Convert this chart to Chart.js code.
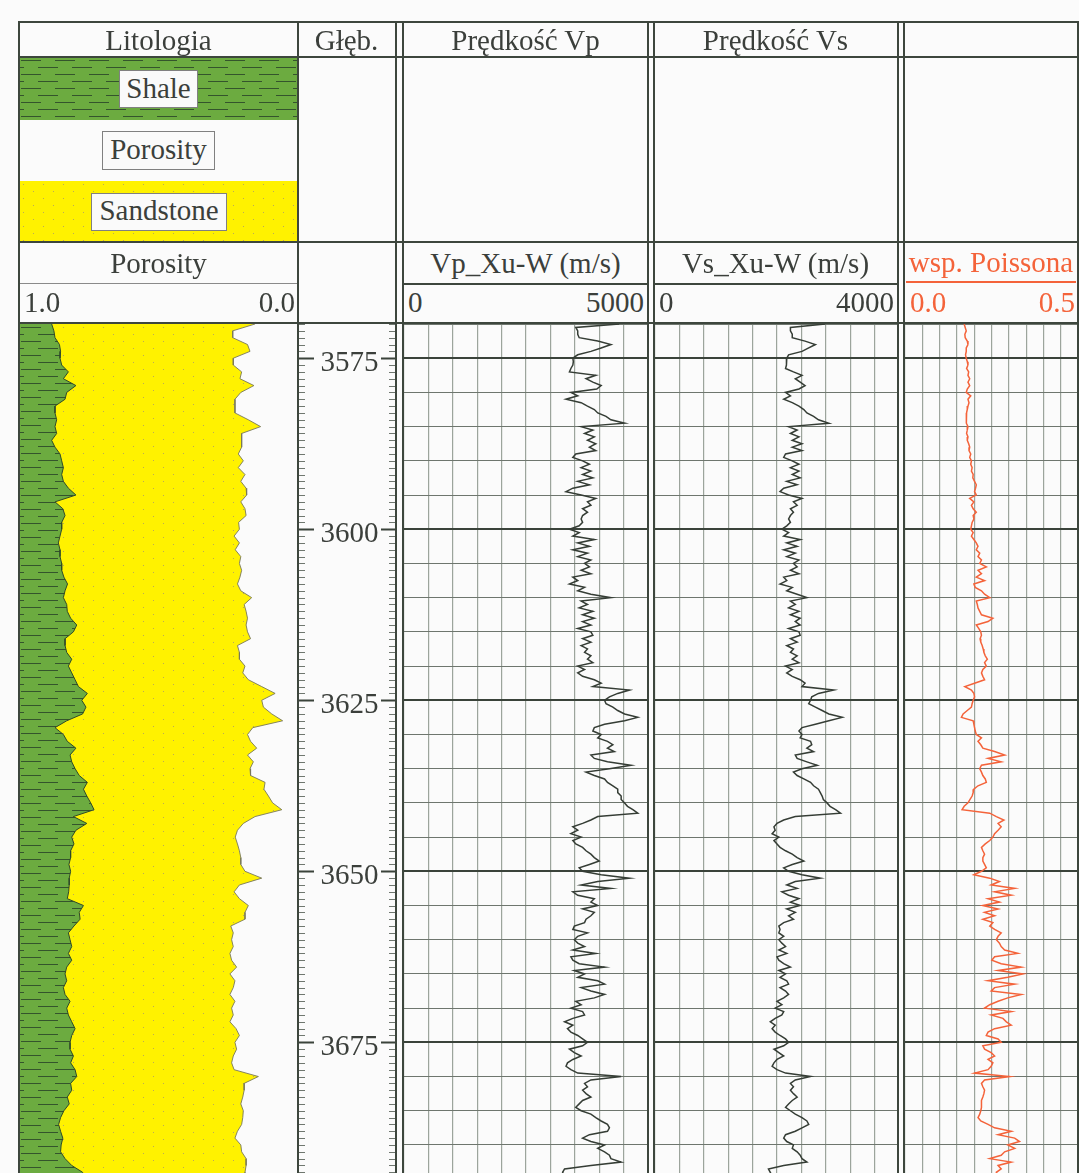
<!DOCTYPE html>
<html>
<head>
<meta charset="utf-8">
<script src="https://cdn.jsdelivr.net/npm/chart.js@4.4.0/dist/chart.umd.min.js"></script>
<style>
  body { margin: 0; background: #fcfcfc; }
  #page { position: relative; width: 1079px; height: 1173px; overflow: hidden; background: #fbfbfb;
          font-family: "Liberation Serif", "Times New Roman", serif; color: #3b3f3b; }
  .ln { position: absolute; z-index: 3; }
  .t { position: absolute; z-index: 4; font-size: 29px; line-height: 29px; white-space: nowrap; }
  .box { position: absolute; z-index: 2; background: #fafafa; border: 1px solid #808080; box-sizing: border-box; }
  .band { position: absolute; z-index: 1; }
  canvas { position: absolute; z-index: 1; }
</style>
</head>
<body>
<div id="page"></div>
<script>
// depth window (m)
const DEPTH_MIN = 3570;
const DEPTH_MAX = 3694.1;
const LABEL_STEP = 25;

// velocity + Poisson logs, sampled every 0.5 m from 3570 m
const LOG_STEP = 0.5;
const VP = [
  4410, 3520, 3560, 3560, 3590, 3970, 4240, 4040, 3830, 3560,
  3460, 3470, 3460, 3420, 3390, 3930, 3730, 3870, 4040, 3950,
  3420, 3560, 3320, 3630, 3760, 3900, 3970, 4140, 4240, 4520,
  3630, 3870, 3700, 3900, 3760, 3930, 3800, 3930, 3520, 3460,
  3660, 3800, 3630, 3830, 3660, 3870, 3560, 3800, 3460, 3320,
  3630, 3930, 3760, 3830, 3660, 3760, 3660, 3630, 3660, 3590,
  3390, 3590, 3460, 3900, 3560, 3800, 3460, 3760, 3560, 3830,
  3700, 3800, 3630, 3830, 3460, 3560, 3390, 3700, 3560, 3830,
  4240, 3630, 3760, 3590, 3870, 3660, 3900, 3660, 3830, 3560,
  3830, 3870, 3660, 3830, 3630, 3760, 3700, 3830, 3760, 3870,
  3560, 3700, 3560, 3660, 3900, 4040, 3870, 4620, 4380, 4210,
  4110, 4140, 4280, 4380, 4520, 4790, 4520, 4110, 3900, 3870,
  4040, 3970, 4170, 4280, 4170, 4310, 3830, 3900, 4170, 4650,
  4210, 3730, 3900, 4110, 4170, 4280, 4380, 4380, 4450, 4450,
  4520, 4580, 4690, 4790, 3970, 3830, 3660, 3460, 3560, 3420,
  3630, 3460, 3520, 3660, 3730, 3830, 3900, 4000, 3800, 3590,
  3660, 4040, 4620, 3970, 3630, 4240, 3460, 3560, 3900, 3830,
  3970, 3660, 3900, 3830, 3730, 3700, 3490, 3460, 3760, 3560,
  3490, 3560, 3700, 3460, 3930, 3420, 3460, 3590, 4110, 3490,
  3700, 3560, 3970, 4110, 3630, 3830, 4110, 3900, 3520, 3630,
  3420, 3660, 3700, 3460, 3290, 3460, 3350, 3420, 3560, 3660,
  3760, 3660, 3390, 3490, 3630, 3460, 3350, 3320, 3420, 3560,
  4450, 3830, 3700, 3760, 3660, 3730, 3830, 3660, 3590, 3520,
  3630, 3830, 3930, 4040, 4170, 4210, 4170, 3800, 3660, 3830,
  4110, 3970, 4110, 4210, 4240, 4450, 3830, 3290, 3250, 3290
];
const VS = [
  2790, 2220, 2220, 2250, 2250, 2460, 2630, 2520, 2410, 2190,
  2160, 2160, 2150, 2140, 2270, 2410, 2300, 2380, 2460, 2360,
  2140, 2220, 2110, 2250, 2360, 2440, 2490, 2600, 2680, 2850,
  2190, 2330, 2220, 2360, 2250, 2410, 2250, 2410, 2140, 2110,
  2250, 2360, 2220, 2360, 2250, 2380, 2160, 2330, 2110, 2050,
  2190, 2410, 2270, 2330, 2220, 2270, 2220, 2190, 2220, 2160,
  2080, 2190, 2110, 2380, 2160, 2330, 2110, 2300, 2160, 2360,
  2270, 2330, 2220, 2360, 2110, 2160, 2050, 2250, 2160, 2330,
  2490, 2220, 2300, 2190, 2360, 2220, 2380, 2300, 2380, 2190,
  2360, 2380, 2220, 2330, 2160, 2270, 2220, 2330, 2250, 2360,
  2140, 2250, 2160, 2250, 2380, 2460, 2410, 2930, 2680, 2570,
  2550, 2520, 2630, 2740, 2850, 3070, 2850, 2630, 2410, 2360,
  2410, 2380, 2550, 2570, 2490, 2600, 2300, 2330, 2490, 2660,
  2410, 2270, 2330, 2440, 2550, 2600, 2680, 2710, 2740, 2760,
  2820, 2870, 2960, 3040, 2300, 2110, 2000, 1950, 1970, 1920,
  2030, 1950, 2000, 2050, 2140, 2250, 2330, 2440, 2250, 2110,
  2190, 2410, 2710, 2300, 2160, 2330, 2080, 2190, 2360, 2220,
  2380, 2160, 2300, 2190, 2270, 2110, 2030, 2050, 2030, 2110,
  2030, 2080, 2140, 2030, 2160, 2000, 2030, 2110, 2220, 2030,
  2140, 2050, 2160, 2190, 2050, 2140, 2190, 2110, 2000, 2080,
  1970, 2110, 2080, 1970, 1890, 1970, 1920, 1970, 2050, 2140,
  2190, 2110, 1950, 2030, 2110, 2000, 1950, 1920, 2000, 2140,
  2550, 2300, 2220, 2270, 2220, 2270, 2330, 2250, 2190, 2140,
  2220, 2300, 2410, 2490, 2520, 2410, 2300, 2140, 2110, 2160,
  2270, 2250, 2330, 2380, 2410, 2490, 2110, 1860, 1890, 1920
];
const POISSON = [
  0.171, 0.174, 0.177, 0.173, 0.174, 0.180, 0.182, 0.177, 0.177, 0.175,
  0.177, 0.180, 0.182, 0.178, 0.184, 0.182, 0.187, 0.182, 0.187, 0.180,
  0.177, 0.190, 0.182, 0.185, 0.182, 0.180, 0.178, 0.177, 0.178, 0.177,
  0.182, 0.180, 0.178, 0.182, 0.180, 0.184, 0.187, 0.185, 0.190, 0.187,
  0.192, 0.190, 0.194, 0.192, 0.197, 0.196, 0.201, 0.206, 0.204, 0.201,
  0.206, 0.187, 0.199, 0.192, 0.197, 0.206, 0.197, 0.199, 0.194, 0.192,
  0.190, 0.197, 0.192, 0.199, 0.206, 0.211, 0.206, 0.216, 0.211, 0.221,
  0.216, 0.235, 0.211, 0.221, 0.206, 0.230, 0.199, 0.203, 0.221, 0.230,
  0.245, 0.206, 0.209, 0.211, 0.216, 0.221, 0.254, 0.240, 0.206, 0.213,
  0.219, 0.221, 0.217, 0.219, 0.223, 0.226, 0.228, 0.232, 0.238, 0.230,
  0.235, 0.225, 0.221, 0.225, 0.230, 0.201, 0.173, 0.192, 0.199, 0.201,
  0.197, 0.194, 0.192, 0.180, 0.168, 0.163, 0.197, 0.199, 0.201, 0.203,
  0.206, 0.221, 0.211, 0.219, 0.225, 0.259, 0.288, 0.240, 0.278, 0.221,
  0.216, 0.221, 0.225, 0.232, 0.235, 0.211, 0.199, 0.197, 0.194, 0.188,
  0.182, 0.171, 0.165, 0.245, 0.264, 0.286, 0.269, 0.278, 0.269, 0.259,
  0.254, 0.245, 0.232, 0.221, 0.225, 0.230, 0.225, 0.225, 0.230, 0.235,
  0.221, 0.199, 0.245, 0.273, 0.249, 0.317, 0.259, 0.307, 0.240, 0.273,
  0.225, 0.269, 0.230, 0.259, 0.225, 0.254, 0.245, 0.259, 0.278, 0.269,
  0.264, 0.273, 0.278, 0.288, 0.326, 0.259, 0.251, 0.278, 0.336, 0.269,
  0.341, 0.297, 0.240, 0.317, 0.259, 0.249, 0.336, 0.297, 0.269, 0.245,
  0.230, 0.307, 0.249, 0.283, 0.293, 0.307, 0.259, 0.240, 0.235, 0.269,
  0.278, 0.225, 0.230, 0.249, 0.259, 0.240, 0.254, 0.249, 0.240, 0.201,
  0.302, 0.230, 0.221, 0.225, 0.230, 0.228, 0.225, 0.221, 0.221, 0.221,
  0.219, 0.216, 0.211, 0.219, 0.240, 0.259, 0.307, 0.269, 0.317, 0.331,
  0.297, 0.317, 0.288, 0.278, 0.245, 0.307, 0.269, 0.278, 0.264, 0.269
];

// lithology: shale volume and porosity, every 1 m from 3570
const LITH_STEP = 1;
const VSH = [
  0.117, 0.125, 0.129, 0.145, 0.149, 0.147, 0.153, 0.177, 0.159, 0.204,
  0.171, 0.165, 0.129, 0.129, 0.135, 0.129, 0.135, 0.117, 0.129, 0.147,
  0.153, 0.159, 0.153, 0.159, 0.177, 0.204, 0.129, 0.157, 0.165, 0.153,
  0.153, 0.147, 0.141, 0.147, 0.147, 0.153, 0.153, 0.161, 0.174, 0.165,
  0.159, 0.171, 0.173, 0.185, 0.207, 0.195, 0.165, 0.165, 0.171, 0.189,
  0.177, 0.189, 0.201, 0.213, 0.245, 0.225, 0.240, 0.228, 0.171, 0.129,
  0.159, 0.173, 0.204, 0.183, 0.189, 0.201, 0.216, 0.245, 0.231, 0.243,
  0.257, 0.269, 0.195, 0.243, 0.204, 0.189, 0.197, 0.185, 0.185, 0.179,
  0.185, 0.180, 0.180, 0.178, 0.173, 0.231, 0.216, 0.219, 0.197, 0.177,
  0.183, 0.189, 0.177, 0.189, 0.171, 0.165, 0.171, 0.159, 0.165, 0.183,
  0.171, 0.177, 0.189, 0.201, 0.189, 0.183, 0.183, 0.195, 0.185, 0.201,
  0.207, 0.185, 0.189, 0.173, 0.180, 0.161, 0.149, 0.142, 0.149, 0.157,
  0.151, 0.149, 0.165, 0.189, 0.228, 0.237
];
const PHI = [
  0.154, 0.234, 0.234, 0.181, 0.172, 0.232, 0.232, 0.202, 0.208, 0.158,
  0.205, 0.226, 0.226, 0.226, 0.178, 0.134, 0.202, 0.202, 0.202, 0.214,
  0.196, 0.214, 0.190, 0.205, 0.186, 0.184, 0.205, 0.190, 0.186, 0.213,
  0.210, 0.229, 0.210, 0.225, 0.205, 0.210, 0.202, 0.208, 0.217, 0.205,
  0.166, 0.193, 0.186, 0.181, 0.186, 0.181, 0.170, 0.217, 0.210, 0.210,
  0.190, 0.198, 0.178, 0.130, 0.082, 0.130, 0.124, 0.094, 0.055, 0.162,
  0.181, 0.170, 0.148, 0.181, 0.160, 0.172, 0.170, 0.118, 0.122, 0.106,
  0.091, 0.058, 0.154, 0.196, 0.217, 0.225, 0.217, 0.210, 0.205, 0.205,
  0.190, 0.130, 0.210, 0.229, 0.210, 0.178, 0.190, 0.190, 0.241, 0.232,
  0.238, 0.232, 0.244, 0.238, 0.220, 0.244, 0.226, 0.232, 0.244, 0.226,
  0.238, 0.232, 0.244, 0.222, 0.210, 0.226, 0.220, 0.232, 0.238, 0.229,
  0.142, 0.193, 0.193, 0.198, 0.205, 0.196, 0.198, 0.202, 0.217, 0.226,
  0.205, 0.202, 0.186, 0.186, 0.190, 0.190
];

const INK = '#3d463d';
const RED = '#f4633a';
const TOP = 324, H = 849;
const page = document.getElementById('page');

function line(l, t, w, h, c) {
  const d = document.createElement('div');
  d.className = 'ln';
  Object.assign(d.style, {left: l + 'px', top: t + 'px', width: w + 'px', height: h + 'px', background: c || INK});
  page.appendChild(d);
}
function text(s, left, width, baseline, align, color) {
  const d = document.createElement('div');
  d.className = 't';
  d.textContent = s;
  Object.assign(d.style, {left: left + 'px', width: width + 'px', top: (baseline - 24.3) + 'px', textAlign: align || 'center'});
  if (color) d.style.color = color;
  page.appendChild(d);
}

// fill patterns
function shaleTile() {
  const c = document.createElement('canvas');
  c.width = 34; c.height = 14;
  const g = c.getContext('2d');
  g.fillStyle = '#6cab40'; g.fillRect(0, 0, 34, 14);
  g.strokeStyle = '#34542c'; g.lineWidth = 1;
  g.beginPath();
  g.moveTo(2, 3.5); g.lineTo(22, 3.5);
  g.moveTo(19, 10.5); g.lineTo(34, 10.5);
  g.moveTo(0, 10.5); g.lineTo(5, 10.5);
  g.stroke();
  return c;
}
function sandTile() {
  const c = document.createElement('canvas');
  c.width = 20; c.height = 14;
  const g = c.getContext('2d');
  g.fillStyle = '#fff200'; g.fillRect(0, 0, 20, 14);
  g.fillStyle = '#b9a95a';
  g.fillRect(4, 3, 1, 1); g.fillRect(14, 10, 1, 1);
  return c;
}
const shaleImg = shaleTile(), sandImg = sandTile();
const pctx = document.createElement('canvas').getContext('2d');
const shalePattern = pctx.createPattern(shaleImg, 'repeat');
const sandPattern = pctx.createPattern(sandImg, 'repeat');

// header legend bands
function band(top, h, img) {
  const d = document.createElement('div');
  d.className = 'band';
  Object.assign(d.style, {left: '19px', top: top + 'px', width: '279px', height: h + 'px',
    backgroundImage: 'url(' + img.toDataURL() + ')'});
  page.appendChild(d);
}
band(57, 63, shaleImg);
band(181, 61, sandImg);
function box(l, t, w, h) {
  const d = document.createElement('div');
  d.className = 'box';
  Object.assign(d.style, {left: l + 'px', top: t + 'px', width: w + 'px', height: h + 'px'});
  page.appendChild(d);
}
box(119, 70, 79, 38);
box(102, 131, 113, 39);
box(91, 193, 136, 38);

// frame lines
line(18, 21, 1061, 2);
line(18, 56, 1061, 2);
line(18, 241, 1061, 2);
line(18, 322, 1061, 2);
[18, 296.5, 395, 402, 646.5, 652.5, 896.5, 902.5, 1077].forEach(x => line(x, 21, 2, 1152));
line(20, 283, 277, 1, '#8a8a8a');
line(404, 283, 243, 1.5);
line(655, 283, 242, 1.5);
line(906, 281, 170, 2, RED);

// header text
text('Litologia', 19, 279, 50);
text('Głęb.', 297, 99, 50);
text('Prędkość Vp', 404, 243, 50);
text('Prędkość Vs', 654, 243, 50);
text('Shale', 119, 79, 98);
text('Porosity', 102, 113, 159);
text('Sandstone', 91, 136, 220.5);
text('Porosity', 19, 279, 273);
text('1.0', 24, 60, 312, 'left');
text('0.0', 200, 95, 312, 'right');
text('Vp_Xu-W (m/s)', 404, 243, 273);
text('0', 408, 40, 312, 'left');
text('5000', 540, 104, 312, 'right');
text('Vs_Xu-W (m/s)', 654, 243, 273);
text('0', 659, 40, 312, 'left');
text('4000', 790, 104, 312, 'right');
text('wsp. Poissona', 904, 174, 272, 'center', RED);
text('0.0', 910, 60, 312, 'left', RED);
text('0.5', 1000, 75, 312, 'right', RED);

function pts(arr, step, f) {
  return arr.map((v, i) => ({x: f ? f(v) : v, y: DEPTH_MIN + i * step}));
}

function yScale(grid) {
  return {
    type: 'linear', min: DEPTH_MIN, max: DEPTH_MAX, reverse: true,
    display: grid, border: {display: false},
    ticks: {display: false, stepSize: 5},
    grid: {
      drawTicks: false,
      color: c => c.tick && c.tick.value % LABEL_STEP === 0 ? '#3a433a' : '#6e766e',
      lineWidth: c => c.tick && c.tick.value % LABEL_STEP === 0 ? 2 : 1
    }
  };
}

function track(left, width, datasets, xOpts, grid, plugins) {
  const cv = document.createElement('canvas');
  cv.width = width; cv.height = H;
  cv.style.left = left + 'px'; cv.style.top = TOP + 'px';
  page.appendChild(cv);
  return new Chart(cv, {
    type: 'line',
    data: {datasets},
    plugins: plugins || [],
    options: {
      responsive: false, animation: false, devicePixelRatio: 1,
      indexAxis: 'y',
      layout: {padding: 0},
      plugins: {legend: {display: false}, tooltip: {enabled: false}},
      elements: {point: {radius: 0}, line: {tension: 0}},
      scales: {
        x: Object.assign({
          type: 'linear', display: grid, border: {display: false},
          ticks: {display: false},
          grid: {drawTicks: false, color: '#9ca49c', lineWidth: 1.2}
        }, xOpts),
        y: yScale(grid)
      }
    }
  });
}

// lithology track: shale from the left, porosity from the right
track(19, 279, [
  {data: pts(VSH, LITH_STEP, v => 1 - v), borderColor: '#2f4a2a', borderWidth: 1,
   backgroundColor: shalePattern, fill: {value: 1}},
  {data: pts(PHI, LITH_STEP), borderColor: '#77775a', borderWidth: 0.9,
   backgroundColor: sandPattern, fill: {value: 1}}
], {min: 0, max: 1, reverse: true}, false);

// depth track
const depthTicks = {
  id: 'depthTicks',
  afterDraw(chart) {
    const {ctx, chartArea: a, scales: {y}} = chart;
    ctx.save();
    ctx.font = '29px "Liberation Serif", serif';
    ctx.textAlign = 'center';
    ctx.fillStyle = '#3b3f3b';
    for (let d = Math.ceil(y.min); d <= y.max; d++) {
      const py = Math.round(y.getPixelForValue(d)) + 0.5;
      const major = d % LABEL_STEP === 0;
      ctx.strokeStyle = major ? '#3a433a' : '#6f776f';
      ctx.lineWidth = major ? 2 : 1;
      ctx.beginPath();
      ctx.moveTo(a.left, py); ctx.lineTo(a.left + (major ? 16 : 7), py);
      ctx.moveTo(a.right, py); ctx.lineTo(a.right - (major ? 14 : 6), py);
      ctx.stroke();
      if (major) ctx.fillText(String(d), (a.left + a.right) / 2 + 3, py + 12);
    }
    ctx.restore();
  }
};
track(298, 97, [], {min: 0, max: 1}, false, [depthTicks]);

// velocity tracks
track(404, 244, [
  {data: pts(VP, LOG_STEP), borderColor: '#353d35', borderWidth: 1.5, fill: false}
], {min: 0, max: 5000, ticks: {display: false, stepSize: 500}}, true);

track(655, 244, [
  {data: pts(VS, LOG_STEP), borderColor: '#353d35', borderWidth: 1.5, fill: false}
], {min: 0, max: 4000, ticks: {display: false, stepSize: 400}}, true);

track(905, 173, [
  {data: pts(POISSON, LOG_STEP), borderColor: RED, borderWidth: 1.5, fill: false}
], {min: 0, max: 0.5, ticks: {display: false, stepSize: 0.05}}, true);
</script>
</body>
</html>
